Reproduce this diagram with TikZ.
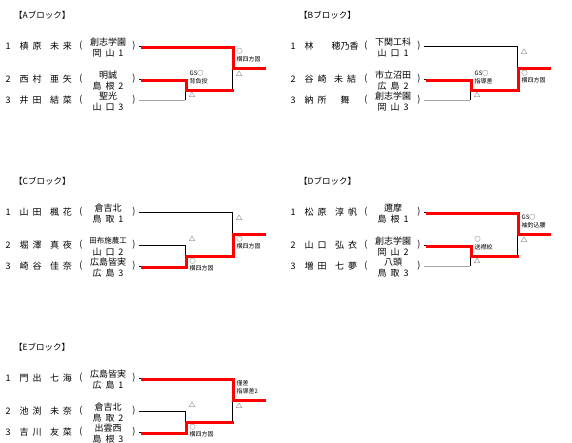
\documentclass[tikz,border=0pt]{standalone}
\usepackage{fontspec}
\newfontfamily\jp{Noto Sans CJK JP}
\usepackage{tikz}
\newcommand{\chsp}{\hspace{4pt}}

\begin{document}
\begin{tikzpicture}[x=1pt,y=-1pt,
  every node/.style={inner sep=0pt},
  hd/.style={anchor=west,font=\jp\fontsize{8.5}{8.5}\selectfont},
  nm/.style={font=\jp\fontsize{9}{9}\selectfont},
  sm/.style={font=\jp\fontsize{6}{7.5}\selectfont,align=left},
  tri/.style={font=\jp\fontsize{6.5}{6.5}\selectfont},
  brk/.style={line width=0.6pt},
  lose/.style={line width=0.8pt,gray!70},
  win/.style={line width=3.2pt,red,transform canvas={shift={(1.6,1.6)}}}]
\useasboundingbox (0,0) rectangle (572,443);

% A block
\begin{scope}[shift={(0,0)}]
\node[hd] (Ah) at (14,15) {【Aブロック】};
\foreach \y/\r/\sa/\ga/\sb/\sc in {46/1/槙\chsp 原/未\chsp 来/創志学園/岡\chsp 山\chsp 1,
    79/2/西\chsp 村/亜\chsp 矢/明誠/島\chsp 根\chsp 2,
    100/3/井\chsp 田/結\chsp 菜/聖光/山\chsp 口\chsp 3}{
  \node[nm] (A-\r-n) at (8,\y) {\r};
  \node[nm,anchor=west] (A-\r-s) at (19.5,\y) {\sa};
  \node[nm] (A-\r-g) at (61,\y) {\ga};
  \node[nm] (A-\r-l) at (81,\y) {(};
  \node[nm] (A-\r-a) at (108,\y-4) {\sb};
  \node[nm] (A-\r-b) at (108,\y+7) {\sc};
  \node[nm] (A-\r-r) at (134,\y) {)};
}
\coordinate (A1) at (139,46);
\coordinate (A2) at (139,79);
\coordinate (A3) at (139,100);
\coordinate (As) at (185,89);
\coordinate (Af) at (232,67);
\coordinate (Ao) at (264,67);
\draw[brk] (A1) -| (As -| Af) -- (As);
\draw[brk] (A2) -| (As |- A3);
\draw[brk] (Af) -- (Ao);
\draw[lose] (A3) -- (As |- A3);
\draw[win] (A1) -| (Af) -- (Ao);
\draw[win] (A2) -| (As) -- (As -| Af);
\node[sm,anchor=south west] (Afw) at (236.5,62) {○\\横四方固};
\node[tri] (Afl) at (239,73.5) {△};
\node[sm,anchor=south west] (Asw) at (189.5,84) {GS○\\背負投};
\node[tri] (Asl) at (192,94.5) {△};
\end{scope}

% B block
\begin{scope}[shift={(285,0)}]
\node[hd] (Bh) at (14,15) {【Bブロック】};
\foreach \y/\r/\sa/\ga/\sb/\sc in {46/1/林/穂乃香/下関工科/山\chsp 口\chsp 1,
    79/2/谷\chsp 崎/未\chsp 結/市立沼田/広\chsp 島\chsp 2,
    100/3/納\chsp 所/舞/創志学園/岡\chsp 山\chsp 3}{
  \node[nm] (B-\r-n) at (8,\y) {\r};
  \node[nm,anchor=west] (B-\r-s) at (19.5,\y) {\sa};
  \node[nm] (B-\r-g) at (60,\y) {\ga};
  \node[nm] (B-\r-l) at (81,\y) {(};
  \node[nm] (B-\r-a) at (108,\y-4) {\sb};
  \node[nm] (B-\r-b) at (108,\y+7) {\sc};
  \node[nm] (B-\r-r) at (134,\y) {)};
}
\coordinate (B1) at (139,46);
\coordinate (B2) at (139,79);
\coordinate (B3) at (139,100);
\coordinate (Bs) at (185,89);
\coordinate (Bf) at (232,67);
\coordinate (Bo) at (264,67);
\draw[brk] (B1) -| (Bs -| Bf) -- (Bs);
\draw[brk] (B2) -| (Bs |- B3);
\draw[brk] (Bf) -- (Bo);
\draw[lose] (B3) -- (Bs |- B3);
\draw[win] (B2) -| (Bs) -| (Bf) -- (Bo);
\node[tri] (Bfl) at (239,52) {△};
\node[sm,anchor=north west] (Bfw) at (236.5,70) {○\\横四方固};
\node[sm,anchor=south west] (Bsw) at (189.5,84) {GS○\\指導差};
\node[tri] (Bsl) at (192,94.5) {△};
\end{scope}

% C block
\begin{scope}[shift={(0,166)}]
\node[hd] (Ch) at (14,15) {【Cブロック】};
\foreach \y/\r/\sa/\ga/\sb/\sc in {46/1/山\chsp 田/楓\chsp 花/倉吉北/鳥\chsp 取\chsp 1,
    79/2/堀\chsp 澤/真\chsp 夜/{\fontsize{7.5}{7.5}\selectfont 田布施農工}/山\chsp 口\chsp 2,
    100/3/崎\chsp 谷/佳\chsp 奈/広島皆実/広\chsp 島\chsp 3}{
  \node[nm] (C-\r-n) at (8,\y) {\r};
  \node[nm,anchor=west] (C-\r-s) at (19.5,\y) {\sa};
  \node[nm] (C-\r-g) at (61,\y) {\ga};
  \node[nm] (C-\r-l) at (81,\y) {(};
  \node[nm] (C-\r-a) at (108,\y-4) {\sb};
  \node[nm] (C-\r-b) at (108,\y+7) {\sc};
  \node[nm] (C-\r-r) at (134,\y) {)};
}
\coordinate (C1) at (139,46);
\coordinate (C2) at (139,79);
\coordinate (C3) at (139,100);
\coordinate (Cs) at (185,89);
\coordinate (Cf) at (232,67);
\coordinate (Co) at (264,67);
\draw[brk] (C1) -| (Cs -| Cf) -- (Cs);
\draw[brk] (C2) -| (Cs |- C3) -- (C3);
\draw[brk] (Cf) -- (Co);
\draw[win] (C3) -| (Cs) -| (Cf) -- (Co);
\node[tri] (Cfl) at (239,52) {△};
\node[sm,anchor=north west] (Cfw) at (236.5,70) {○\\横四方固};
\node[tri] (Csl) at (192,73) {△};
\node[sm,anchor=north west] (Csw) at (189.5,92) {○\\横四方固};
\end{scope}

% D block
\begin{scope}[shift={(285,166)}]
\node[hd] (Dh) at (14,15) {【Dブロック】};
\foreach \y/\r/\sa/\ga/\sb/\sc in {46/1/松\chsp 原/淳\chsp 帆/邇摩/島\chsp 根\chsp 1,
    79/2/山\chsp 口/弘\chsp 衣/創志学園/岡\chsp 山\chsp 2,
    100/3/増\chsp 田/七\chsp 夢/八頭/鳥\chsp 取\chsp 3}{
  \node[nm] (D-\r-n) at (8,\y) {\r};
  \node[nm,anchor=west] (D-\r-s) at (19.5,\y) {\sa};
  \node[nm] (D-\r-g) at (61,\y) {\ga};
  \node[nm] (D-\r-l) at (81,\y) {(};
  \node[nm] (D-\r-a) at (108,\y-4) {\sb};
  \node[nm] (D-\r-b) at (108,\y+7) {\sc};
  \node[nm] (D-\r-r) at (134,\y) {)};
}
\coordinate (D1) at (139,46);
\coordinate (D2) at (139,79);
\coordinate (D3) at (139,100);
\coordinate (Ds) at (185,89);
\coordinate (Df) at (232,67);
\coordinate (Do) at (264,67);
\draw[brk] (D1) -| (Ds -| Df) -- (Ds);
\draw[brk] (D2) -| (Ds |- D3);
\draw[brk] (Df) -- (Do);
\draw[lose] (D3) -- (Ds |- D3);
\draw[win] (D1) -| (Df) -- (Do);
\draw[win] (D2) -| (Ds) -- (Ds -| Df);
\node[sm,anchor=south west] (Dfw) at (236.5,62) {GS○\\袖釣込腰};
\node[tri] (Dfl) at (239,73.5) {△};
\node[sm,anchor=south west] (Dsw) at (189.5,84) {○\\送襟絞};
\node[tri] (Dsl) at (192,94.5) {△};
\end{scope}

% E block
\begin{scope}[shift={(0,332)}]
\node[hd] (Eh) at (14,15) {【Eブロック】};
\foreach \y/\r/\sa/\ga/\sb/\sc in {46/1/門\chsp 出/七\chsp 海/広島皆実/広\chsp 島\chsp 1,
    79/2/池\chsp 渕/未\chsp 奈/倉吉北/鳥\chsp 取\chsp 2,
    100/3/吉\chsp 川/友\chsp 菜/出雲西/島\chsp 根\chsp 3}{
  \node[nm] (E-\r-n) at (8,\y) {\r};
  \node[nm,anchor=west] (E-\r-s) at (19.5,\y) {\sa};
  \node[nm] (E-\r-g) at (61,\y) {\ga};
  \node[nm] (E-\r-l) at (81,\y) {(};
  \node[nm] (E-\r-a) at (108,\y-4) {\sb};
  \node[nm] (E-\r-b) at (108,\y+7) {\sc};
  \node[nm] (E-\r-r) at (134,\y) {)};
}
\coordinate (E1) at (139,46);
\coordinate (E2) at (139,79);
\coordinate (E3) at (139,100);
\coordinate (Es) at (185,89);
\coordinate (Ef) at (232,67);
\coordinate (Eo) at (264,67);
\draw[brk] (E1) -| (Es -| Ef) -- (Es);
\draw[brk] (E2) -| (Es |- E3) -- (E3);
\draw[brk] (Ef) -- (Eo);
\draw[win] (E1) -| (Ef) -- (Eo);
\draw[win] (E3) -| (Es) -- (Es -| Ef);
\node[sm,anchor=south west] (Efw) at (236.5,62) {僅差\\指導差2};
\node[tri] (Efl) at (239,73.5) {△};
\node[tri] (Esl) at (192,73) {△};
\node[sm,anchor=north west] (Esw) at (189.5,92) {○\\横四方固};
\end{scope}
\end{tikzpicture}
\end{document}
